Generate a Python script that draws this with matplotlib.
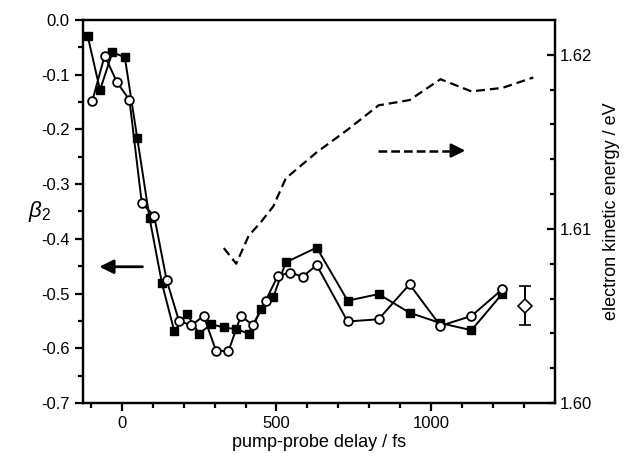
import matplotlib.pyplot as plt

plt.rcParams["font.family"] = ["Liberation Sans", "DejaVu Sans"]
plt.rcParams["mathtext.fontset"] = "custom"
plt.rcParams["mathtext.it"] = "Liberation Sans:italic"
plt.rcParams["mathtext.rm"] = "Liberation Sans"

# beta_2 anisotropy, filled squares
delay_sq = [-110, -70, -30, 10, 50, 90, 130, 170, 210, 250, 290, 330, 370, 410,
            450, 490, 530, 630, 730, 830, 930, 1030, 1130, 1230]
beta_sq = [-0.029, -0.128, -0.059, -0.068, -0.215, -0.362, -0.481, -0.569, -0.537,
           -0.573, -0.556, -0.562, -0.565, -0.573, -0.529, -0.506, -0.443, -0.416,
           -0.513, -0.501, -0.535, -0.554, -0.567, -0.500]

# beta_2 anisotropy, open circles
delay_ci = [-95, -55, -15, 25, 65, 105, 145, 185, 225, 265, 305, 345, 385, 425,
            465, 505, 545, 585, 630, 730, 830, 930, 1030, 1130, 1230]
beta_ci = [-0.148, -0.065, -0.114, -0.146, -0.335, -0.358, -0.475, -0.550, -0.558,
           -0.541, -0.605, -0.605, -0.541, -0.558, -0.513, -0.467, -0.462, -0.469,
           -0.448, -0.551, -0.547, -0.483, -0.559, -0.541, -0.492]

# electron kinetic energy (right axis), dashed
delay_ke = [330, 370, 410, 450, 490, 530, 630, 730, 830, 930, 1030, 1130, 1230, 1330]
energy_ke = [1.6089, 1.6080, 1.6096, 1.6104, 1.6113, 1.6129, 1.6144, 1.6157,
             1.6171, 1.6174, 1.6186, 1.6179, 1.6181, 1.6187]

# typical error bar
err_x = [1304]
err_y = [-0.522]
err_dy = [0.036]

fig = plt.figure(figsize=(6.26, 4.57), dpi=100)
ax = fig.add_axes([0.1326, 0.1182, 0.7540, 0.8380])
ax2 = ax.twinx()

line_kw = dict(color="black", linewidth=1.4)
ax.plot(delay_sq, beta_sq, marker="s", markersize=5.8, markerfacecolor="black",
        markeredgecolor="black", **line_kw)
ax.plot(delay_ci, beta_ci, marker="o", markersize=6.3, markerfacecolor="white",
        markeredgecolor="black", markeredgewidth=1.3, **line_kw)
ax.errorbar(err_x, err_y, yerr=err_dy, fmt="D", markersize=7, markerfacecolor="white",
            markeredgecolor="black", markeredgewidth=1.2, ecolor="black",
            elinewidth=1.4, capsize=4, capthick=1.4)

ax2.plot(delay_ke, energy_ke, color="black", linewidth=1.6, dashes=(4, 2.2))

ax.set_xlim(-125, 1400)
ax.set_ylim(-0.7, 0.0)
ax2.set_ylim(1.60, 1.622)

ax.set_xticks([0, 500, 1000])
ax.set_xticks(range(-100, 1400, 100), minor=True)
ax.set_yticks([-0.7, -0.6, -0.5, -0.4, -0.3, -0.2, -0.1, 0.0])
ax.set_yticklabels(["-0.7", "-0.6", "-0.5", "-0.4", "-0.3", "-0.2", "-0.1", "0.0"])
ax.set_yticks([-0.65, -0.55, -0.45, -0.35, -0.25, -0.15, -0.05], minor=True)
ax2.set_yticks([1.60, 1.61, 1.62])
ax2.set_yticklabels(["1.60", "1.61", "1.62"])
ax2.set_yticks([1.602, 1.604, 1.606, 1.608, 1.612, 1.614, 1.616, 1.618], minor=True)

for a in (ax, ax2):
    for s in a.spines.values():
        s.set_linewidth(1.6)
ax.tick_params(axis="both", which="major", direction="out", length=6, width=1.6,
               labelsize=12)
ax.tick_params(axis="both", which="minor", direction="out", length=3.5, width=1.6)
ax2.tick_params(axis="y", which="major", direction="in", length=6, width=1.6,
                labelsize=12)
ax2.tick_params(axis="y", which="minor", direction="in", length=3.5, width=1.6)

ax.set_xlabel("pump-probe delay / fs", fontsize=13, labelpad=2)
ax.set_ylabel(r"$\beta_{2}$", fontsize=16, rotation=0, va="center", ha="center")
ax.yaxis.set_label_coords(-0.092, 0.5)
ax2.set_ylabel("electron kinetic energy / eV", fontsize=13, labelpad=8)

# direction arrows
head = "-|>,head_length=0.7,head_width=0.35"
ax.annotate("", xy=(-72, -0.451), xytext=(67, -0.451),
            arrowprops=dict(arrowstyle=head, color="black", lw=2.0,
                            mutation_scale=12, shrinkA=0, shrinkB=0))
# dashed shaft plus a solid head for the right-axis arrow
ax2.plot([828, 1075], [1.6145, 1.6145], color="black", lw=1.8, dashes=(3.5, 1.6))
ax2.annotate("", xy=(1110, 1.6145), xytext=(1070, 1.6145),
             arrowprops=dict(arrowstyle=head, color="black", lw=1.8,
                             mutation_scale=12, shrinkA=0, shrinkB=0))

fig.savefig("out.png", dpi=100)
